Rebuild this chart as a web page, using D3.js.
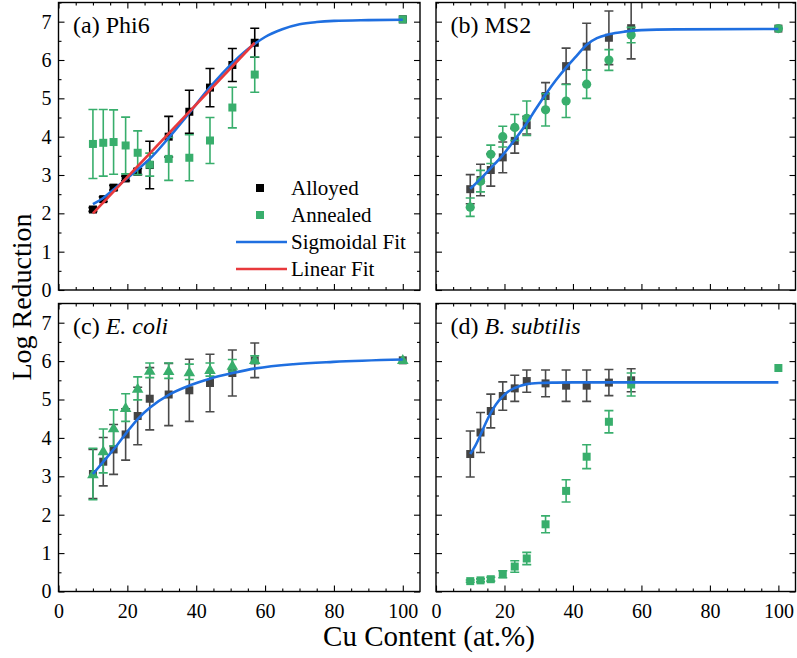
<!DOCTYPE html>
<html><head><meta charset="utf-8">
<script src="https://cdn.jsdelivr.net/npm/d3@7/dist/d3.min.js"></script>
<style>body{margin:0;background:#fff}svg{display:block}</style>
</head><body><svg id="c" width="797" height="658"></svg>
<script>
// ---- data ----
const cuContent = [10, 13, 16, 19.5, 23, 26.5, 32, 38, 44, 50.5, 57, 100];
const xMajorTicks = [0, 20, 40, 60, 80, 100];
const yMajorTicks = [0, 1, 2, 3, 4, 5, 6, 7];

const phi6Alloyed      = [2.10, 2.37, 2.67, 2.91, 3.09, 3.26, 4.00, 4.65, 5.28, 5.87, 6.45, 7.06];
const phi6AlloyedErr   = [0.05, 0.06, 0.06, 0.06, 0.08, 0.62, 0.53, 0.56, 0.50, 0.43, 0.38, 0];
const phi6Annealed     = [3.81, 3.84, 3.86, 3.77, 3.58, 3.27, 3.42, 3.45, 3.90, 4.76, 5.62, 7.06];
const phi6AnnealedErr  = [0.90, 0.87, 0.84, 0.74, 0.57, 0.30, 0.56, 0.60, 0.60, 0.53, 0.46, 0];
const phi6SigX = [10, 13, 16, 19.5, 23, 26.5, 32, 38, 44, 50.5, 57, 60, 65, 70, 75, 80, 90, 100];
const phi6SigY = [2.24, 2.40, 2.62, 2.88, 3.15, 3.42, 3.97, 4.62, 5.29, 5.92, 6.42, 6.60, 6.80, 6.93, 6.99, 7.02, 7.04, 7.05];
const phi6LinX = [10, 57];
const phi6LinY = [2.00, 6.45];

const ms2Alloyed       = [2.63, 2.87, 3.13, 3.46, 3.89, 4.30, 5.06, 5.84, 6.35, 6.58, 6.83, 6.82];
const ms2AlloyedErr    = [0.38, 0.41, 0.42, 0.40, 0.32, 0.23, 0.35, 0.47, 0.61, 0.70, 0.80, 0];
const ms2Annealed      = [2.16, 2.84, 3.54, 4.00, 4.24, 4.48, 4.70, 4.93, 5.37, 6.00, 6.65, 6.82];
const ms2AnnealedErr   = [0.24, 0.28, 0.24, 0.27, 0.34, 0.45, 0.42, 0.43, 0.37, 0.27, 0.20, 0];
const ms2SigX = [10, 13, 16, 19.5, 23, 26.5, 29, 32, 35, 38, 41, 44, 47, 50.5, 55, 60, 70, 100];
const ms2SigY = [2.64, 2.90, 3.18, 3.52, 3.92, 4.35, 4.70, 5.10, 5.47, 5.80, 6.10, 6.40, 6.57, 6.67, 6.74, 6.78, 6.80, 6.81];

const ecoliAlloyed     = [3.06, 3.38, 3.70, 4.09, 4.57, 5.02, 5.13, 5.24, 5.43, 5.69, 6.02, 6.02];
const ecoliAlloyedErr  = [0.64, 0.63, 0.65, 0.67, 0.75, 0.81, 0.81, 0.81, 0.75, 0.60, 0.45, 0];
const ecoliAnnealed    = [3.06, 3.66, 4.26, 4.79, 5.29, 5.76, 5.75, 5.72, 5.78, 5.89, 6.04, 6.04];
const ecoliAnnealedErr = [0.67, 0.57, 0.47, 0.36, 0.30, 0.19, 0.20, 0.20, 0.17, 0.15, 0.10, 0];
const ecoliSigX = [10, 13.4, 16.3, 19.8, 23.2, 26.6, 32.4, 38.2, 44.2, 50.6, 57.3, 68.2, 79.8, 100];
const ecoliSigY = [3.06, 3.42, 3.73, 4.14, 4.51, 4.79, 5.14, 5.37, 5.55, 5.69, 5.81, 5.92, 5.98, 6.04];

const bsubAlloyed      = [3.58, 4.14, 4.70, 5.09, 5.29, 5.48, 5.42, 5.36, 5.36, 5.44, 5.50, null];
const bsubAlloyedErr   = [0.60, 0.52, 0.44, 0.37, 0.34, 0.29, 0.35, 0.41, 0.41, 0.34, 0.30, 0];
const bsubAnnealed     = [0.27, 0.29, 0.32, 0.45, 0.65, 0.86, 1.75, 2.62, 3.51, 4.42, 5.39, 5.82];
const bsubAnnealedErr  = [0.03, 0.04, 0.05, 0.09, 0.15, 0.16, 0.22, 0.29, 0.31, 0.29, 0.30, 0];
const bsubSigX = [10, 11.5, 13, 14.5, 16, 17.5, 19.5, 21, 23, 26.5, 30, 35, 40, 100];
const bsubSigY = [3.58, 3.80, 4.08, 4.38, 4.65, 4.87, 5.08, 5.20, 5.30, 5.40, 5.43, 5.44, 5.445, 5.445];

const legendLabels = ["Alloyed", "Annealed", "Sigmoidal Fit", "Linear Fit"];

const FONT = "'Liberation Serif'";
(function () {
  const ctx = document.createElement("canvas").getContext("2d");
  ["20px", "24px", "29px", "italic 24px"].forEach(s => {
    ctx.font = s + " " + FONT;
    ctx.measureText("Log Reduction Cu Content (at.%) 0123456789 E. coli B. subtilis");
  });
})();

// ---- styling ----
const GREEN = "#38ae6c", BLUE = "#1f6fe0", RED = "#e8393c";
const cols = [[58.5, 420], [436, 795.5]];
const rows = [[2.5, 290], [303.5, 591.5]];

const panels = [
  {col:0,row:0, tag:"(a) ", name:"Phi6", italic:false, alloyed:phi6Alloyed, alloyedErr:phi6AlloyedErr, annealed:phi6Annealed, annealedErr:phi6AnnealedErr, annShape:"square", alloyColor:"#000", sigX:phi6SigX, sigY:phi6SigY, linX:phi6LinX, linY:phi6LinY, legend:true},
  {col:1,row:0, tag:"(b) ", name:"MS2", italic:false, alloyed:ms2Alloyed, alloyedErr:ms2AlloyedErr, annealed:ms2Annealed, annealedErr:ms2AnnealedErr, annShape:"circle", alloyColor:"#444", sigX:ms2SigX, sigY:ms2SigY},
  {col:0,row:1, tag:"(c) ", name:"E. coli", italic:true, alloyed:ecoliAlloyed, alloyedErr:ecoliAlloyedErr, annealed:ecoliAnnealed, annealedErr:ecoliAnnealedErr, annShape:"triangle", alloyColor:"#444", sigX:ecoliSigX, sigY:ecoliSigY},
  {col:1,row:1, tag:"(d) ", name:"B. subtilis", italic:true, alloyed:bsubAlloyed, alloyedErr:bsubAlloyedErr, annealed:bsubAnnealed, annealedErr:bsubAnnealedErr, annShape:"square", alloyColor:"#444", sigX:bsubSigX, sigY:bsubSigY},
];

const svg = d3.select("#c");
const xMinor = d3.range(5, 105, 5).filter(v => v % 20 !== 0);
const yMinor = d3.range(0.5, 7.6, 1);

function marker(g, shape, cx, cy, color) {
  if (shape === "square") {
    g.append("rect").attr("x", cx - 4).attr("y", cy - 4).attr("width", 8).attr("height", 8).attr("fill", color);
  } else if (shape === "circle") {
    g.append("circle").attr("cx", cx).attr("cy", cy).attr("r", 4.6).attr("fill", color);
  } else {
    g.append("path").attr("d", d3.symbol(d3.symbolTriangle, 58)()).attr("transform", `translate(${cx},${cy + 1})`).attr("fill", color);
  }
}

panels.forEach((p, pi) => {
  const x = d3.scaleLinear().domain([0, 105]).range(cols[p.col]);
  const y = d3.scaleLinear().domain([0, 7.5]).range([rows[p.row][1], rows[p.row][0]]);
  const g = svg.append("g");
  const clipId = "clip" + pi;
  svg.append("clipPath").attr("id", clipId).append("rect")
    .attr("x", x(0)).attr("y", y(7.5)).attr("width", x(105) - x(0)).attr("height", y(0) - y(7.5));
  const plot = g.append("g").attr("clip-path", `url(#${clipId})`);

  const fmt = d3.format("d");
  const axes = [
    [d3.axisBottom(x).tickValues(xMajorTicks).tickSize(-6).tickPadding(12).tickFormat(p.row === 1 ? fmt : () => ""), `translate(0,${y(0)})`],
    [d3.axisBottom(x).tickValues(xMinor).tickSize(-3).tickFormat(() => ""), `translate(0,${y(0)})`],
    [d3.axisTop(x).tickValues(xMajorTicks).tickSize(-6).tickFormat(() => ""), `translate(0,${y(7.5)})`],
    [d3.axisTop(x).tickValues(xMinor).tickSize(-3).tickFormat(() => ""), `translate(0,${y(7.5)})`],
    [d3.axisLeft(y).tickValues(yMajorTicks).tickSize(-6).tickPadding(7).tickFormat(p.col === 0 ? fmt : () => ""), `translate(${x(0)},0)`],
    [d3.axisLeft(y).tickValues(yMinor).tickSize(-3).tickFormat(() => ""), `translate(${x(0)},0)`],
    [d3.axisRight(y).tickValues(yMajorTicks).tickSize(-6).tickFormat(() => ""), `translate(${x(105)},0)`],
    [d3.axisRight(y).tickValues(yMinor).tickSize(-3).tickFormat(() => ""), `translate(${x(105)},0)`],
  ];
  axes.forEach(([ax, tr]) => {
    const a = g.append("g").attr("transform", tr).call(ax).attr("font-size", 20).attr("font-family", FONT);
    a.select(".domain").remove();
    a.selectAll("line").attr("stroke", "#000").attr("stroke-width", 1.1);
    a.selectAll("text").attr("fill", "#000");
  });
  g.append("rect").attr("x", x(0)).attr("y", y(7.5)).attr("width", x(105) - x(0)).attr("height", y(0) - y(7.5))
    .attr("fill", "none").attr("stroke", "#000").attr("stroke-width", 1.4);

  function series(vals, errs, color, barColor, shape) {
    vals.forEach((v, i) => {
      if (v == null) return;
      const cx = x(cuContent[i]);
      const e = errs[i];
      if (e > 0) {
        const y1 = y(v - e), y2 = y(v + e);
        plot.append("line").attr("x1", cx).attr("x2", cx).attr("y1", y1).attr("y2", y2).attr("stroke", barColor).attr("stroke-width", 1.6);
        [y1, y2].forEach(yy => plot.append("line").attr("x1", cx - 4.5).attr("x2", cx + 4.5).attr("y1", yy).attr("y2", yy).attr("stroke", barColor).attr("stroke-width", 1.6));
      }
      marker(plot, shape, cx, y(v), color);
    });
  }
  series(p.alloyed, p.alloyedErr, p.alloyColor, p.alloyColor === "#000" ? "#000" : "#4a4a4a", "square");
  series(p.annealed, p.annealedErr, GREEN, GREEN, p.annShape);

  const line = d3.line().x(d => x(d[0])).y(d => y(d[1])).curve(d3.curveMonotoneX);
  plot.append("path").attr("d", line(d3.zip(p.sigX, p.sigY))).attr("fill", "none").attr("stroke", BLUE).attr("stroke-width", 2.6);
  if (p.linX) {
    plot.append("path").attr("d", line(d3.zip(p.linX, p.linY))).attr("fill", "none").attr("stroke", RED).attr("stroke-width", 2.6);
  }

  const t = g.append("text").attr("x", x(0) + 14.5).attr("y", y(7.5) + 30).attr("font-size", 24).attr("fill", "#000");
  t.append("tspan").text(p.tag);
  t.append("tspan").attr("font-style", p.italic ? "italic" : "normal").text(p.name);

  if (p.legend) {
    const lx = 260, ys = [188, 215, 242, 269];
    const lg = g.append("g");
    lg.append("rect").attr("x", lx - 4).attr("y", ys[0] - 4).attr("width", 8).attr("height", 8).attr("fill", "#000");
    lg.append("rect").attr("x", lx - 4).attr("y", ys[1] - 4).attr("width", 8).attr("height", 8).attr("fill", GREEN);
    lg.append("line").attr("x1", 236).attr("x2", 287).attr("y1", ys[2]).attr("y2", ys[2]).attr("stroke", BLUE).attr("stroke-width", 2.6);
    lg.append("line").attr("x1", 236).attr("x2", 287).attr("y1", ys[3]).attr("y2", ys[3]).attr("stroke", RED).attr("stroke-width", 2.6);
    legendLabels.forEach((s, i) => lg.append("text").attr("x", 291).attr("y", ys[i]).attr("dy", "0.33em").attr("font-size", 21).attr("fill", "#000").text(s));
  }
});

svg.append("text").attr("x", 429).attr("y", 646).attr("text-anchor", "middle").attr("font-size", 29).attr("fill", "#000").text("Cu Content (at.%)");
svg.append("text").attr("transform", "translate(31,297) rotate(-90)").attr("text-anchor", "middle").attr("font-size", 28).attr("fill", "#000").text("Log Reduction");

svg.selectAll("text").style("font-family", FONT);
</script></body></html>
